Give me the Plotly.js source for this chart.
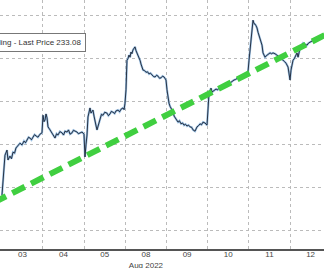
<!DOCTYPE html>
<html>
<head>
<meta charset="utf-8">
<script src="https://cdn.plot.ly/plotly-3.0.1.min.js"></script>
<style>html,body{margin:0;padding:0;background:#fff;overflow:hidden}#chart{width:324px;height:268px}</style>
</head>
<body>
<div id="chart"></div>
<script>
// Trading-day positions (0 = start of Aug 03 session, each session = 1 unit)
const dayLabels = ["03", "04", "05", "08<br>Aug 2022", "09", "10", "11", "12"];
const dayCenters = [0.5, 1.5, 2.5, 3.5, 4.5, 5.5, 6.5, 7.5];
const dayBounds = [1, 2, 3, 4, 5, 6, 7];
const gridPrices = [190, 200, 210, 220, 230, 240];

const priceT = [
  0.004,0.028,0.077,0.126,0.150,0.198,0.235,0.271,0.310,0.344,0.390,0.441,0.490,0.539,0.575,0.611,0.650,0.684,0.720,0.757,0.795,0.830,0.878,0.927,0.976,
  1.000,1.025,1.049,1.074,1.098,1.122,1.171,1.219,1.255,1.292,1.330,1.364,1.410,1.462,1.500,1.534,1.583,1.620,1.656,1.704,1.740,1.777,1.826,1.860,1.899,1.948,1.996,
  2.020,2.044,2.069,2.093,2.120,2.142,2.166,2.190,2.214,2.240,2.263,2.290,2.312,2.336,2.360,2.385,2.420,2.457,2.500,2.554,2.590,2.627,2.660,2.700,2.740,2.773,2.822,2.860,2.895,2.943,2.970,2.992,
  3.016,3.040,3.065,3.089,3.115,3.137,3.160,3.186,3.210,3.235,3.260,3.284,3.310,3.332,3.360,3.381,3.405,3.430,3.465,3.502,3.540,3.575,3.610,3.648,3.685,3.721,3.760,3.794,3.830,3.867,3.905,3.940,3.988,
  4.012,4.035,4.061,4.085,4.109,4.135,4.158,4.185,4.207,4.245,4.280,4.315,4.352,4.390,4.425,4.460,4.498,4.535,4.571,4.610,4.644,4.693,4.741,4.780,4.814,4.850,4.887,4.935,4.984,
  5.033,5.060,5.081,5.105,5.130,5.165,5.203,5.240,5.276,5.310,5.349,5.385,5.421,5.460,5.494,5.530,5.567,5.600,5.640,5.675,5.713,5.750,5.786,5.820,5.859,5.895,5.931,5.980,
  6.004,6.028,6.052,6.077,6.101,6.125,6.150,6.175,6.198,6.223,6.247,6.271,6.296,6.320,6.344,6.370,6.393,6.420,6.442,6.480,6.515,6.550,6.587,6.635,6.685,6.720,6.757,6.795,6.830,6.865,6.903,6.952,6.976,7.000,
  7.024,7.050,7.073,7.100,7.122,7.145,7.170,7.195,7.220,7.243,7.280,7.316,7.365,7.413,7.450,7.486,7.520,7.559,7.610,7.656,7.690,7.729,7.765,7.802,7.875
];
const priceV = [
  198.1,201.6,207.4,208.6,206.3,207.2,206.6,208.1,207.9,209.1,209.6,210.2,209.8,210.7,210.3,210.9,211.6,211.4,211.0,211.6,212.2,211.9,211.6,212.3,212.6,
  216.7,215.2,215.6,217.0,216.1,214.0,213.3,212.6,212.0,211.4,212.4,212.1,212.9,212.6,212.1,213.0,212.8,213.3,212.3,212.6,213.2,213.0,212.8,212.4,212.6,212.8,212.3,
  207.0,209.8,212.1,216.3,217.6,218.4,217.2,217.5,217.9,216.5,215.1,214.2,213.3,214.0,215.2,216.0,216.9,216.7,217.4,217.2,216.6,217.0,217.6,217.4,217.1,217.7,217.9,217.5,218.1,218.4,218.0,219.5,
  222.6,229.5,229.9,230.7,230.2,231.4,231.0,231.9,232.3,232.6,231.7,231.2,230.7,230.0,229.4,228.6,228.0,227.2,227.1,226.7,226.8,226.3,226.5,226.1,225.7,225.6,226.0,225.8,225.3,225.4,225.8,225.6,224.9,
  222.6,220.4,219.5,218.8,218.4,218.0,217.5,216.5,216.1,215.6,215.1,215.4,214.7,214.9,214.4,214.6,214.2,214.4,214.0,213.9,213.3,213.0,214.0,214.3,214.7,214.5,215.1,214.9,214.4,
  221.9,222.4,223.0,222.1,222.3,222.6,222.8,222.6,223.0,223.1,223.3,223.2,223.5,223.8,224.0,224.1,224.4,224.6,224.9,225.0,225.3,225.5,225.6,225.8,226.1,226.4,226.5,226.8,
  229.5,231.9,234.0,236.5,238.8,238.0,237.9,237.5,237.0,236.0,235.1,234.2,233.8,233.0,231.2,230.7,230.2,230.5,230.7,231.0,231.2,231.0,231.2,231.0,230.7,230.4,230.0,229.8,229.5,229.2,228.8,227.9,226.7,224.9,
  227.2,228.4,229.5,229.8,230.2,230.8,231.2,230.2,231.3,232.3,232.9,233.5,233.2,233.0,233.5,233.7,233.9,234.2,234.4,234.6,234.8,234.9,235.1,235.4,235.6
];

const trendT = [-0.2, 8.0];
const trendV = [196.4, 236.1];

const traces = [
  {x: priceT, y: priceV, mode: "lines", line: {color: "#9cc0e2", width: 2.2}, hoverinfo: "skip"},
  {x: priceT, y: priceV, mode: "lines", line: {color: "#1a2333", width: 0.9}, hoverinfo: "skip"},
  {x: trendT, y: trendV, mode: "lines", line: {color: "#40cf40", width: 6, dash: "14px,7px"}, hoverinfo: "skip"}
];

const layout = {
  width: 324, height: 268,
  margin: {l: 0, r: 0, t: 0, b: 19, pad: 0},
  paper_bgcolor: "#ffffff", plot_bgcolor: "#ffffff",
  showlegend: false,
  font: {family: "Liberation Sans, Arial, sans-serif", size: 8, color: "#444"},
  xaxis: {
    range: [-0.044, 7.825],
    tickmode: "array", tickvals: dayCenters, ticktext: dayLabels,
    showgrid: false, zeroline: false,
    showline: true, linecolor: "#555", linewidth: 1.5,
    ticks: "", ticklabelstandoff: -3, tickfont: {size: 8, color: "#444"},
    minor: {tickmode: "array", tickvals: dayBounds, showgrid: true, gridcolor: "#bbbbbb", griddash: "dot", gridwidth: 1, ticks: ""}
  },
  yaxis: {
    range: [185.6, 243.5],
    tickmode: "array", tickvals: gridPrices,
    showticklabels: false, showgrid: true, gridcolor: "#bbbbbb", griddash: "dot", gridwidth: 1,
    zeroline: false, showline: false, ticks: ""
  },
  annotations: [{
    xref: "paper", yref: "paper", x: 86/324, y: (249-42)/249,
    xanchor: "right", yanchor: "middle", showarrow: false,
    text: "ling - Last Price 233.08",
    font: {family: "Liberation Sans, Arial, sans-serif", size: 8, color: "#333"},
    bgcolor: "#ffffff", bordercolor: "#777", borderwidth: 1, borderpad: 4
  }]
};

Plotly.newPlot("chart", traces, layout, {staticPlot: true, displayModeBar: false});
</script>
</body>
</html>
